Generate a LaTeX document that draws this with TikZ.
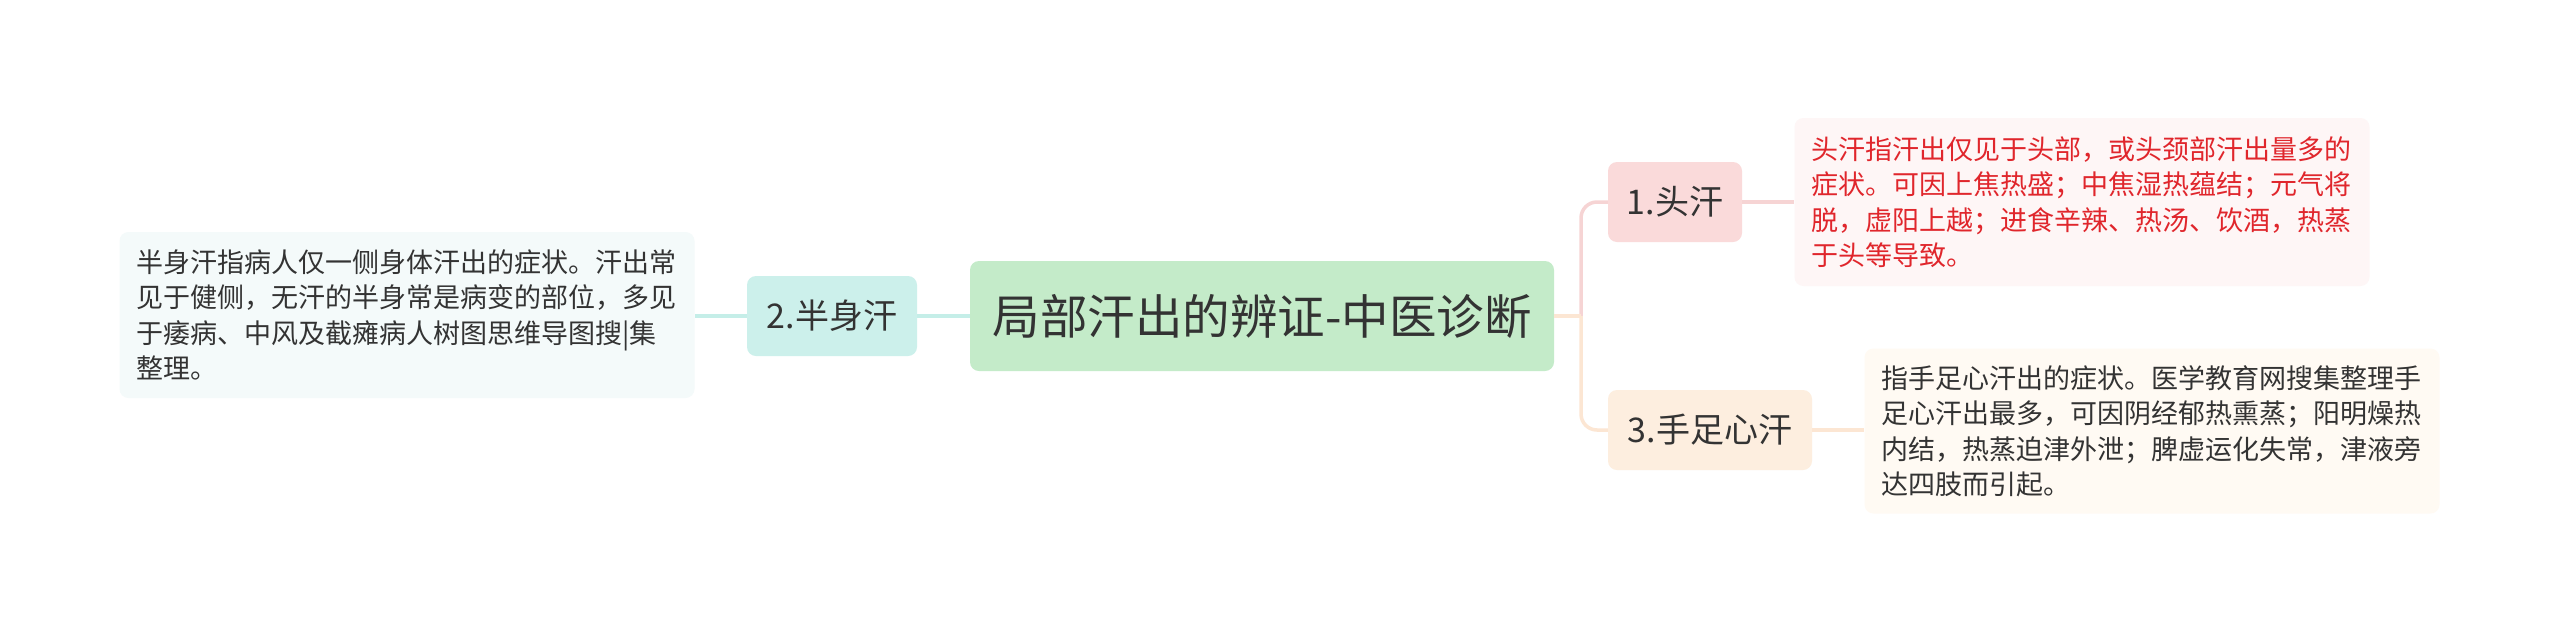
\documentclass[tikz,border=0pt]{standalone}
\usepackage{fontspec}
\setmainfont{Noto Sans CJK SC}
\definecolor{txt}{HTML}{333333}
\definecolor{redtxt}{HTML}{E0262C}
\definecolor{cfill}{HTML}{C4EBC9}
\definecolor{tealfill}{HTML}{CCF0EB}
\definecolor{tealbox}{HTML}{F4FAFA}
\definecolor{pinkfill}{HTML}{FADADA}
\definecolor{pinkbox}{HTML}{FEF6F6}
\definecolor{peachfill}{HTML}{FDEEDF}
\definecolor{peachbox}{HTML}{FFFAF3}
\definecolor{tealline}{HTML}{C5EEE8}
\definecolor{pinkline}{HTML}{F6D4D4}
\definecolor{peachline}{HTML}{FCE6D3}
\tikzset{
  rootnode/.style={rounded corners=9pt, fill=cfill, text=txt, inner sep=0pt,
    minimum width=584pt, minimum height=110pt, font=\fontsize{47.5pt}{56pt}\selectfont},
  branchnode/.style={rounded corners=9pt, text=txt, inner sep=0pt,
    minimum height=80pt, font=\fontsize{34pt}{42pt}\selectfont},
  textbox/.style={rounded corners=9pt, inner xsep=17pt, inner ysep=0pt,
    text width=541pt, align=left, font=\fontsize{27pt}{35.5pt}\selectfont},
  conn/.style={line width=3.5pt}
}
\begin{document}
\begin{tikzpicture}[x=1pt,y=-1pt]
\useasboundingbox[fill=white] (0,0) rectangle (2560,633);
\node[rootnode] (c) at (1262,316) {局部汗出的辨证-中医诊断};
\node[branchnode, fill=tealfill, minimum width=170pt] (n2) at (832,316) {2.半身汗};
\node[textbox, fill=tealbox, text=txt, minimum height=166pt] (t2) at (407,315) {半身汗指病人仅一侧身体汗出的症状。汗出常\\见于健侧，无汗的半身常是病变的部位，多见\\于痿病、中风及截瘫病人树图思维导图搜|集\\整理。};
\node[branchnode, fill=pinkfill, minimum width=134pt] (n1) at (1675,202) {1.头汗};
\node[textbox, fill=pinkbox, text=redtxt, minimum height=168pt] (t1) at (2082,202) {头汗指汗出仅见于头部，或头颈部汗出量多的\\症状。可因上焦热盛；中焦湿热蕴结；元气将\\脱，虚阳上越；进食辛辣、热汤、饮酒，热蒸\\于头等导致。};
\node[branchnode, fill=peachfill, minimum width=204pt] (n3) at (1710,430) {3.手足心汗};
\node[textbox, fill=peachbox, text=txt, minimum height=165pt] (t3) at (2152,431) {指手足心汗出的症状。医学教育网搜集整理手\\足心汗出最多，可因阴经郁热熏蒸；阳明燥热\\内结，热蒸迫津外泄；脾虚运化失常，津液旁\\达四肢而引起。};
\coordinate (j) at (1581,316);
\draw[conn, tealline] (c.west) -- (n2.east);
\draw[conn, tealline] (n2.west) -- (t2.east |- n2.west);
\draw[conn, pinkline, rounded corners=16pt] (j) |- (n1.west);
\draw[conn, peachline, rounded corners=16pt] (j) |- (n3.west);
\draw[conn, peachline] (c.east) -- (j);
\draw[conn, pinkline] (n1.east) -- (t1.west |- n1.east);
\draw[conn, peachline] (n3.east) -- (t3.west |- n3.east);
\end{tikzpicture}
\end{document}
